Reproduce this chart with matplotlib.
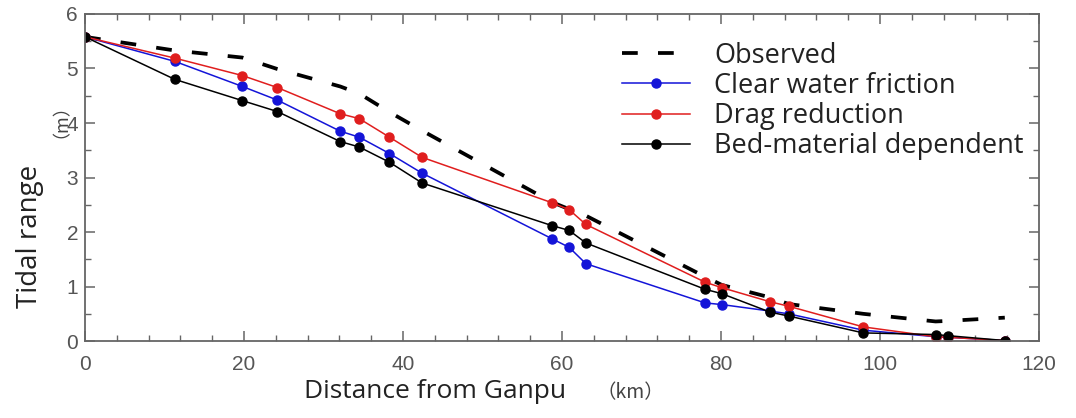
import matplotlib
matplotlib.use("Agg")
import matplotlib.pyplot as plt
from matplotlib.ticker import MultipleLocator

# distance from Ganpu (km) of the stations
distance = [0, 11.3, 19.8, 24.2, 32.1, 34.5, 38.3, 42.4, 58.7, 60.9, 63.0,
            78.0, 80.1, 86.2, 88.5, 97.9, 107.0, 108.5, 115.7]

# tidal range (m)
observed = [5.58, 5.33, 5.20, 4.99, 4.67, 4.54, 4.20, 3.86, 2.55, 2.42, 2.30,
            1.18, 1.03, 0.80, 0.68, 0.50, 0.36, 0.37, 0.43]
clear_water = [5.58, 5.13, 4.67, 4.42, 3.85, 3.74, 3.44, 3.08, 1.88, 1.72, 1.42,
               0.70, 0.67, 0.55, 0.50, 0.20, 0.08, 0.07, 0.01]
drag_reduction = [5.58, 5.19, 4.87, 4.65, 4.17, 4.08, 3.74, 3.37, 2.54, 2.41, 2.14,
                  1.08, 0.98, 0.72, 0.64, 0.26, 0.08, 0.07, 0.01]
bed_material = [5.58, 4.80, 4.41, 4.21, 3.66, 3.56, 3.28, 2.90, 2.12, 2.03, 1.80,
                0.95, 0.87, 0.53, 0.46, 0.15, 0.12, 0.10, 0.01]

labels = ["Observed", "Clear water friction", "Drag reduction", "Bed-material dependent"]

txt_font = ["Open Sans", "DejaVu Sans"]
cjk_font = ["Noto Sans CJK SC", "DejaVu Sans"]

fig = plt.figure(figsize=(10.76, 4.18), dpi=100)
ax = fig.add_axes([0.079, 0.184, 0.8866, 0.7826])

ax.plot(distance, observed, color="black", lw=2.7, linestyle=(0, (4.2, 5.4)),
        label=labels[0])
ax.plot(distance, clear_water, color="#1414d8", lw=1.1, marker="o", ms=6.5,
        label=labels[1])
ax.plot(distance, drag_reduction, color="#e01e1e", lw=1.1, marker="o", ms=6.5,
        label=labels[2])
ax.plot(distance, bed_material, color="black", lw=1.1, marker="o", ms=6.5,
        label=labels[3])

ax.set_xlim(0, 120)
ax.set_ylim(0, 6)
ax.xaxis.set_major_locator(MultipleLocator(20))
ax.xaxis.set_minor_locator(MultipleLocator(4))
ax.yaxis.set_major_locator(MultipleLocator(1))
ax.yaxis.set_minor_locator(MultipleLocator(0.5))

for s in ax.spines.values():
    s.set_color("#666666")
    s.set_linewidth(1.3)
ax.tick_params(which="both", direction="in", top=True, right=True, colors="#666666")
ax.tick_params(which="major", length=7, width=1.1, labelsize=15, labelcolor="#555555")
ax.tick_params(which="minor", length=4, width=1.0)
ax.tick_params(axis="x", which="major", pad=10)
ax.tick_params(axis="y", which="major", pad=5)
for t in ax.get_xticklabels() + ax.get_yticklabels():
    t.set_family(["Liberation Sans", "DejaVu Sans"])

# axis titles
fig.text(435 / 1076, 1 - 392 / 418, "Distance from Ganpu", family=txt_font,
         fontsize=19, color="#222222", ha="center", va="center")
fig.text(630 / 1076, 1 - 393 / 418, "（km）", family=cjk_font,
         fontsize=14, color="#444444", ha="center", va="center")
fig.text(30 / 1076, 1 - 236 / 418, "Tidal range", family=txt_font,
         fontsize=20, color="#222222", ha="center", va="center", rotation=90)
fig.text(52 / 1076, 1 - 112 / 418, "（m）", family=cjk_font,
         fontsize=13, color="#444444", ha="center", va="center", rotation=90)

leg = ax.legend(loc="upper left", bbox_to_anchor=(0.563, 0.915), frameon=False,
                prop={"family": txt_font, "size": 19.5}, handlelength=2.5,
                handletextpad=0.9, labelspacing=0.08, borderaxespad=0,
                borderpad=0)
for t in leg.get_texts():
    t.set_color("#222222")

fig.savefig("out.png", dpi=100)
